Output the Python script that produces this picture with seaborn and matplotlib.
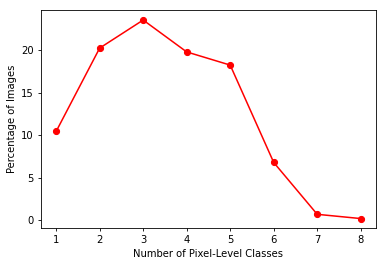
import numpy as np
import matplotlib
matplotlib.use("Agg")
import matplotlib.pyplot as plt
import seaborn as sns

classes = [1, 2, 3, 4, 5, 6, 7, 8]
percent = [10.45, 20.25, 23.55, 19.8, 18.25, 6.8, 0.7, 0.2]

plt.rcParams['font.family'] = 'DejaVu Sans'
plt.rcParams['font.size'] = 7.2
plt.rcParams['axes.linewidth'] = 0.6
plt.rcParams['xtick.major.width'] = 0.6
plt.rcParams['ytick.major.width'] = 0.6
plt.rcParams['xtick.major.size'] = 2.5
plt.rcParams['ytick.major.size'] = 2.5

fig = plt.figure(figsize=(3.86, 2.66), dpi=100)
ax = fig.add_axes([0.106, 0.141, 0.868, 0.821])
sns.lineplot(x=classes, y=percent, marker='o', color='red', linewidth=1.1,
             markersize=4.4, markeredgecolor='red', ax=ax)
ax.set_xticks(classes)
ax.set_yticks([0, 5, 10, 15, 20])
ax.set_xlabel('Number of Pixel-Level Classes', labelpad=2.5)
ax.set_ylabel('Percentage of Images', labelpad=3)
ax.tick_params(labelsize=7.2, pad=2.5)
plt.savefig('out.png', dpi=100)
